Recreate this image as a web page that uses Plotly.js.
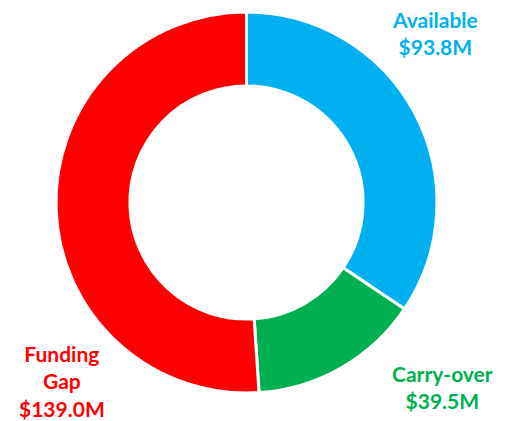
<!DOCTYPE html>
<html>
<head>
<meta charset="utf-8">
<script src="https://cdn.plot.ly/plotly-3.0.1.min.js"></script>
<style>html,body{margin:0;padding:0;background:#fff;}#chart{width:507px;height:421px;}</style>
</head>
<body>
<div id="chart"></div>
<script>
const categories = ["Available", "Carry-over", "Funding Gap"];
const values = [93.8, 39.5, 139.0];
const labelLines = [["Available", "$93.8M"], ["Carry-over", "$39.5M"], ["Funding", "Gap", "$139.0M"]];
const colors = ["#00B0F0", "#00B050", "#FF0000"];
const labelPos = [[0.858, 0.921], [0.872, 0.081], [0.122, 0.095]];

const trace = {
  type: "pie",
  labels: categories,
  values: values,
  sort: false,
  direction: "clockwise",
  rotation: 0,
  hole: 0.612,
  textinfo: "none",
  hoverinfo: "label+value",
  marker: {colors: colors, line: {color: "#ffffff", width: 3}},
  domain: {x: [56/507, 437/507], y: [28/421, 409/421]},
  showlegend: false
};

const annotations = categories.map((c, i) => ({
  xref: "paper", yref: "paper",
  x: labelPos[i][0], y: labelPos[i][1],
  xanchor: "center", yanchor: "middle",
  align: "center",
  showarrow: false,
  text: "<b>" + labelLines[i].join("<br>") + "</b>",
  font: {family: "Lato, 'Liberation Sans', sans-serif", size: 21, color: colors[i]}
}));

Plotly.newPlot("chart", [trace], {
  width: 507, height: 421,
  margin: {l: 0, r: 0, t: 0, b: 0},
  paper_bgcolor: "#ffffff",
  annotations: annotations,
  showlegend: false
}, {displayModeBar: false, staticPlot: true});
</script>
</body>
</html>
